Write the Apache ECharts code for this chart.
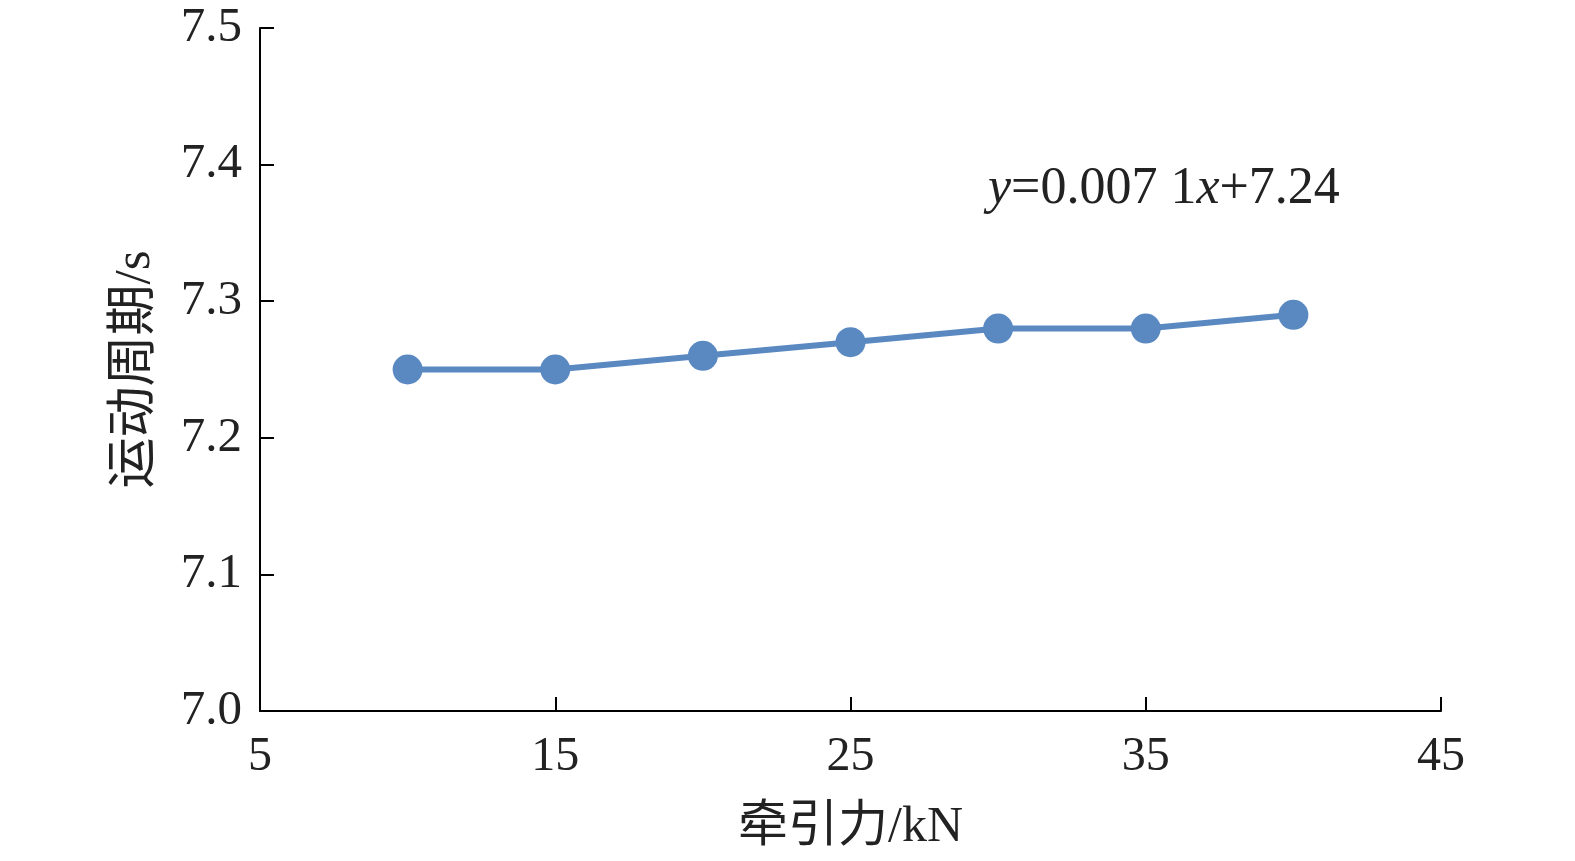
<!DOCTYPE html>
<html><head><meta charset="utf-8">
<script src="https://cdn.jsdelivr.net/npm/echarts@6/dist/echarts.min.js"></script>
<style>html,body{margin:0;padding:0;background:#fff}#c{width:1575px;height:861px}</style>
</head><body><div id="c"></div>
<script>
const xValues = [10, 15, 20, 25, 30, 35, 40];
const yValues = [7.25, 7.25, 7.26, 7.27, 7.28, 7.28, 7.29];
const xAxisName = '牵引力/kN';
const yAxisName = '运动周期/s';
const FONT = '"Liberation Serif","Times New Roman","Noto Sans CJK SC",serif';
const chart = echarts.init(document.getElementById('c'));
chart.setOption({
  backgroundColor: '#fff',
  animation: false,
  grid: {left: 260, right: 134, top: 28, bottom: 150},
  xAxis: {
    type: 'value', min: 5, max: 45, interval: 10,
    name: xAxisName, nameLocation: 'middle', nameGap: 92,
    nameTextStyle: {fontFamily: FONT, fontSize: 50, color: '#222'},
    axisLine: {lineStyle: {color: '#000', width: 2}},
    axisTick: {inside: true, length: 14, lineStyle: {color: '#000', width: 2}},
    axisLabel: {fontFamily: FONT, fontSize: 48, color: '#222', margin: 22},
    splitLine: {show: false}
  },
  yAxis: {
    type: 'value', min: 7.0, max: 7.5, interval: 0.1,
    name: yAxisName, nameLocation: 'middle', nameGap: 99, nameRotate: 90,
    nameTextStyle: {fontFamily: FONT, fontSize: 51, color: '#222'},
    axisLine: {show: true, lineStyle: {color: '#000', width: 2}},
    axisTick: {show: true, inside: true, length: 14, lineStyle: {color: '#000', width: 2}},
    axisLabel: {fontFamily: FONT, fontSize: 49, color: '#222', margin: 18,
      formatter: v => v.toFixed(1)},
    splitLine: {show: false}
  },
  graphic: [{
    type: 'text', left: 988, top: 163,
    style: {
      text: '{i|y}=0.007 1{i|x}+7.24',
      font: '52px ' + FONT, fill: '#222',
      rich: {i: {fontStyle: 'italic', fontFamily: FONT, fontSize: 52, fill: '#222'}}
    }
  }],
  series: [{
    type: 'line',
    data: xValues.map((x, i) => [x, yValues[i]]),
    symbol: 'circle', symbolSize: 30,
    lineStyle: {color: '#5a89c2', width: 6},
    itemStyle: {color: '#5a89c2'}
  }]
});
</script></body></html>
